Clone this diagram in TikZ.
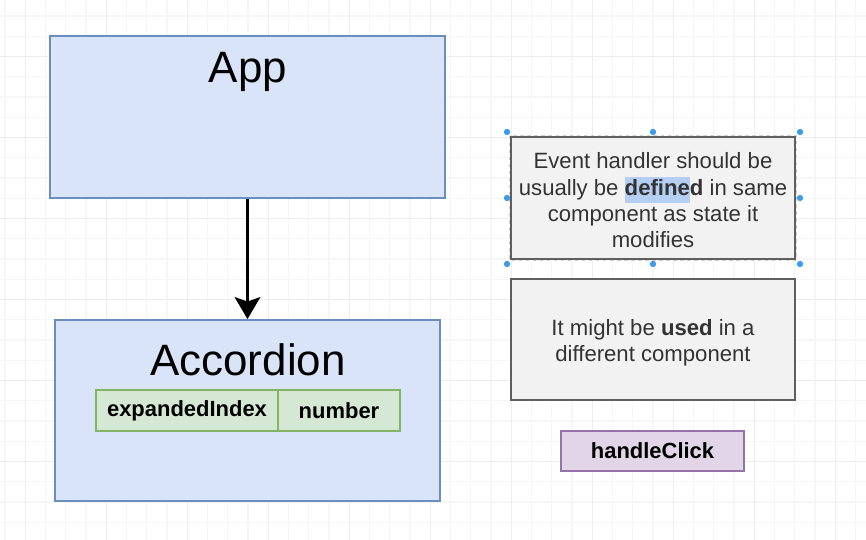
\documentclass[tikz,border=0pt]{standalone}
\usepackage{fontspec}
\setmainfont{Liberation Sans}
\usetikzlibrary{arrows.meta}
\definecolor{appfill}{HTML}{DAE4F8}
\definecolor{appline}{HTML}{6C8EBF}
\definecolor{tblfill}{HTML}{D5E8D4}
\definecolor{tblline}{HTML}{82B366}
\definecolor{notefill}{HTML}{F2F2F2}
\definecolor{noteline}{HTML}{5F5F5F}
\definecolor{notetext}{HTML}{333333}
\definecolor{fnfill}{HTML}{E1D5E7}
\definecolor{fnline}{HTML}{9673A6}
\definecolor{gridminor}{HTML}{F6F6F6}
\definecolor{gridmajor}{HTML}{EDEDED}
\definecolor{handle}{HTML}{3D9BE9}
\definecolor{hilite}{HTML}{B5CEF3}
\begin{document}
\begin{tikzpicture}[x=.02cm,y=-.02cm,line width=1pt,
  comp/.style={draw=appline,fill=appfill,inner sep=0pt},
  title/.style={anchor=base,font=\fontsize{25}{30}\selectfont},
  field/.style={draw=tblline,fill=tblfill,inner sep=0pt,minimum height=.82cm,
    font=\fontsize{12.5}{15}\selectfont\bfseries},
  note/.style={draw=noteline,fill=notefill,line width=1.5pt,inner sep=0pt,minimum width=5.68cm},
  notetxt/.style={text=notetext,align=center,font=\fontsize{12.6}{15}\selectfont},
  fn/.style={draw=fnline,fill=fnfill,inner sep=0pt,minimum width=3.66cm,minimum height=.8cm,
    font=\fontsize{12.5}{15}\selectfont\bfseries}]
 \useasboundingbox (0,0) rectangle (866,540);
 \fill[white] (0,0) rectangle (866,540);
 \foreach \i in {0,...,42} \draw[gridminor,line width=.6pt] (5+20.25*\i,0) -- (5+20.25*\i,540);
 \foreach \j in {0,...,25} \draw[gridminor,line width=.6pt] (0,16+20.25*\j) -- (866,16+20.25*\j);
 \foreach \i in {1,5,...,41} \draw[gridmajor,line width=.6pt] (5+20.25*\i,0) -- (5+20.25*\i,540);
 \foreach \j in {2,6,...,26} \draw[gridmajor,line width=.6pt] (0,16+20.25*\j) -- (866,16+20.25*\j);

 \node[comp,minimum width=7.9cm,minimum height=3.24cm] (app) at (247.5,117) {};
 \node[title] (apptitle) at (248,83) {App};
 \node[comp,minimum width=7.7cm,minimum height=3.62cm] (acc) at (247.5,410.5) {};
 \node[title] (acctitle) at (248,376) {Accordion};
 \node[field,minimum width=3.64cm] (idx) at (187,410.5) {expandedIndex};
 \node[field,minimum width=2.44cm] (type) at (339,410.5) {number};
 \draw[line width=2pt,-{Stealth[length=12.5pt,width=14.5pt,inset=2.5pt]}] (app.south) -- (acc.north);

 \node[note,minimum height=2.44cm] (event) at (653,198) {};
 \draw[white!70!noteline,line width=.5pt,dash pattern=on 2pt off 2pt] (event.north west) rectangle (event.south east);
 \foreach \p in {(507,132),(653,132),(800,132),(507,198),(800,198),(507,264),(653,264),(800,264)}
  \fill[handle] \p circle (1.8pt);
 \node[notetxt] (eventtxt) at (653,200.5) {Event handler should be\\usually be {\setlength{\fboxsep}{0pt}\colorbox{hilite}{\strut\textbf{define}}}\textbf{d} in same\\component as state it\\modifies};
 \node[note,minimum height=2.42cm] (used) at (653,339.5) {};
 \node[notetxt] (usedtxt) at (653,343) {It might be \textbf{used} in a\\different component};
 \node[fn] (click) at (652.5,451) {handleClick};
\end{tikzpicture}
\end{document}
